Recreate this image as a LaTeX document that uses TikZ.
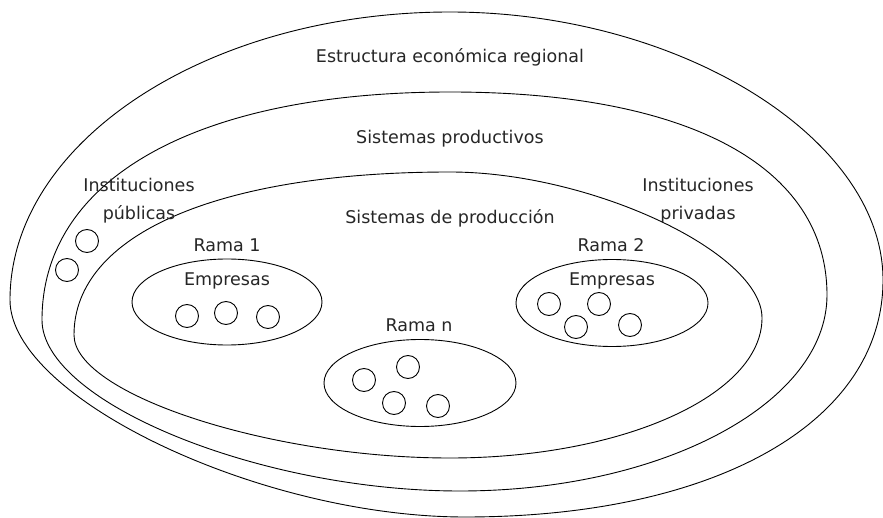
\documentclass[tikz,border=0pt]{standalone}
\usepackage{fontspec}
\setmainfont{DejaVu Sans}
\usetikzlibrary{shapes.geometric}
\begin{document}
\begin{tikzpicture}[x=1pt,y=-1pt,
  zone/.style={draw, line width=0.9pt},
  lbl/.style={font=\fontsize{17.5}{21}\selectfont, inner sep=0pt, anchor=base, text=black!85},
  firm/.style={circle, draw, line width=0.9pt, minimum size=23pt, inner sep=0pt},
  branch/.style={ellipse, draw, line width=0.9pt, minimum width=192pt, minimum height=87pt, inner sep=0pt}]
\useasboundingbox (0,0) rectangle (883,518);
% outer: Estructura economica regional
\coordinate (t1) at (450,12);  \coordinate (r1) at (883,280);
\coordinate (b1) at (465,517); \coordinate (l1) at (10,300);
\draw[zone] (t1) .. controls (679.5,12) and (883,138) .. (r1)
  .. controls (883,422.2) and (715.8,517) .. (b1)
  .. controls (260.3,517) and (10,397.7) .. (l1)
  .. controls (10,141.6) and (208,12) .. (t1) -- cycle;
% middle: Sistemas productivos
\coordinate (t2) at (450,92);  \coordinate (r2) at (827,295);
\coordinate (b2) at (460,491); \coordinate (l2) at (42,320);
\draw[zone] (t2) .. controls (690,92) and (827,167) .. (r2)
  .. controls (827,403.2) and (662.6,491) .. (b2)
  .. controls (259.4,491) and (42,402) .. (l2)
  .. controls (42,178.6) and (197,92) .. (t2) -- cycle;
% inner: Sistemas de produccion
\coordinate (t3) at (450,172); \coordinate (r3) at (762,318);
\coordinate (b3) at (450,458); \coordinate (l3) at (74,335);
\draw[zone] (t3) .. controls (590.4,172) and (762,252.3) .. (r3)
  .. controls (762,395.3) and (622.2,458) .. (b3)
  .. controls (269.5,458) and (74,394) .. (l3)
  .. controls (74,234.9) and (216.9,172) .. (t3) -- cycle;
% labels
\node[lbl] (ter) at (450,63) {Estructura económica regional};
\node[lbl] (sp) at (450,144) {Sistemas productivos};
\node[lbl] (spr) at (450,224) {Sistemas de producción};
\node[lbl] (ip1) at (139,192) {Instituciones};
\node[lbl] (ip2) at (139,220) {públicas};
\node[lbl] (iv1) at (698,192) {Instituciones};
\node[lbl] (iv2) at (698,220) {privadas};
\node[lbl] (ra1) at (227,252) {Rama 1};
\node[lbl] (em1) at (227,286) {Empresas};
\node[lbl] (ra2) at (611,252) {Rama 2};
\node[lbl] (em2) at (612,286) {Empresas};
\node[lbl] (ran) at (419,332) {Rama n};
% branch ellipses
\node[branch, minimum width=190pt, minimum height=86pt] (br1) at (227,302) {};
\node[branch] (br2) at (612,303) {};
\node[branch] (brn) at (420,383) {};
% public institutions
\node[firm] (pi1) at (87,241) {};
\node[firm] (pi2) at (67,270) {};
% firms rama 1
\node[firm] (f11) at (187,316) {};
\node[firm] (f12) at (226,313) {};
\node[firm] (f13) at (268,317) {};
% firms rama 2
\node[firm] (f21) at (549,304) {};
\node[firm] (f22) at (599,304) {};
\node[firm] (f23) at (576,327) {};
\node[firm] (f24) at (630,325) {};
% firms rama n
\node[firm] (fn1) at (364,380) {};
\node[firm] (fn2) at (408,367) {};
\node[firm] (fn3) at (394,403) {};
\node[firm] (fn4) at (438,406) {};
\end{tikzpicture}
\end{document}
